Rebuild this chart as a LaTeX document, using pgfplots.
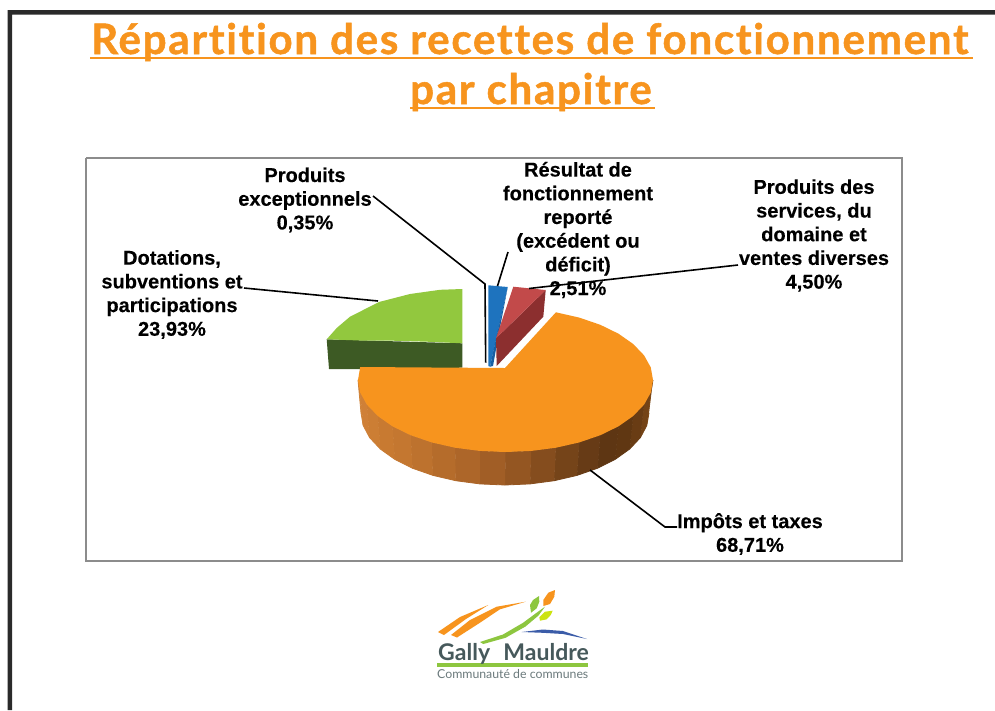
\documentclass[border=0pt]{standalone}
\usepackage{pgfplots}
\pgfplotsset{compat=1.18}
\usepackage{fontspec}
\setmainfont[BoldFeatures={FakeBold=0.25}]{Liberation Sans}
\newfontfamily\titlefont[LetterSpace=4.2,Ligatures=NoCommon,UprightFont=* Bold,FakeBold=1.2]{Lato}
\newfontfamily\logofont[Ligatures=NoCommon]{Lato}
\definecolor{orangeT}{HTML}{F7941E}
\definecolor{greenT}{HTML}{92C83E}
\definecolor{greenS}{HTML}{3D5A24}
\definecolor{blueT}{HTML}{1E73BE}
\definecolor{blueS}{HTML}{165FA3}
\definecolor{redT}{HTML}{C24A4A}
\definecolor{redS}{HTML}{8C2F2F}
\definecolor{frameC}{HTML}{2A2A2A}
\definecolor{boxC}{HTML}{8C8C8C}
\definecolor{logoG}{HTML}{8DC63F}
\definecolor{logoT}{HTML}{46595B}
\definecolor{logoB}{HTML}{3B5CA8}
\definecolor{sa}{HTML}{7F4A18}
\definecolor{sb}{HTML}{744316}
\definecolor{sc}{HTML}{693C14}
\definecolor{sd}{HTML}{603712}
\definecolor{se}{HTML}{5E3613}
\definecolor{sf}{HTML}{673B16}
\definecolor{sg}{HTML}{754419}
\definecolor{sh}{HTML}{854D1E}
\definecolor{si}{HTML}{945622}
\definecolor{sj}{HTML}{A15E26}
\definecolor{sk}{HTML}{AD6629}
\definecolor{sl}{HTML}{B56C2B}
\definecolor{sm}{HTML}{BD722E}
\definecolor{sn}{HTML}{C47730}
\definecolor{so}{HTML}{C87A31}
\definecolor{sp}{HTML}{CC7E34}
\definecolor{sq}{HTML}{CF8037}
\definecolor{sr}{HTML}{D08338}
\newcommand\strip[2]{\addplot[fill=#1,draw=#1,line width=0.8pt,line join=round] coordinates {#2};}
\newcommand\shape[2]{\addplot[fill=#1,draw=none] coordinates {#2};}
\newcommand\leader[1]{\addplot[black,line width=1.6pt] coordinates {#1};}
\newcommand\lbl[2]{\node[font=\bfseries\fontsize{20}{23.7}\selectfont,align=center,text=black,inner sep=0pt] at (axis cs:#1) {#2};}
\begin{document}
\begin{tikzpicture}
\begin{axis}[hide axis,scale only axis,width=995pt,height=710pt,xmin=0,xmax=995,ymin=0,ymax=710,y dir=reverse,clip=true]
\addplot[draw=none,fill=white] coordinates {(0,0)(995,0)(995,710)(0,710)};
% frame
\shape{frameC}{(7.5,10)(995,10)(995,14.5)(12,14.5)(12,710)(7.5,710)}
% chart box
\addplot[boxC,line width=2pt] coordinates {(86,157.5)(902,157.5)(902,560.5)(86,560.5)(86,157.5)};
% green slice
\shape{greenS}{(326.7,339.3)(329,369)(360,369)(462.3,367.7)(462.3,343.3)}
\shape{greenT}{(462.3,289)(440,289.8)(410,294)(379,302)(350,316.7)(336.7,328)(326.7,339.3)(360,340.5)(393,340.7)(427,341.7)(462.3,343.3)}
% blue slice
\shape{blueT}{(488.3,285.3)(507.7,287)(490,366.7)(488.3,366)}
\shape{blueS}{(507.7,287.3)(496,338.5)(490,366.7)(493,366)(498,338)}
% red slice
\shape{redS}{(545.7,290)(543.3,316.7)(496.7,366)(496,338.3)}
\shape{redT}{(513.3,286.7)(545.7,290)(496,338.3)}
% orange side, strip by strip
\strip{sa}{(653,380)(650.8,392.5)(646.8,425.5)(649,413)}
\strip{sb}{(650.8,392.5)(644.1,404.6)(640.4,437.6)(646.8,425.5)}
\strip{sc}{(644.1,404.6)(633.2,416)(629.7,449)(640.4,437.6)}
\strip{sd}{(633.2,416)(618.5,426.3)(615.3,459.3)(629.7,449)}
\strip{se}{(618.5,426.3)(600.3,435.2)(597.6,468.2)(615.3,459.3)}
\strip{sf}{(600.3,435.2)(579.3,442.4)(577,475.4)(597.6,468.2)}
\strip{sg}{(579.3,442.4)(555.9,447.7)(554.2,480.7)(577,475.4)}
\strip{sh}{(555.9,447.7)(531.2,450.9)(530.1,483.9)(554.2,480.7)}
\strip{si}{(531.2,450.9)(505.5,452)(505,485)(530.1,483.9)}
\strip{sj}{(505.5,452)(479.8,450.9)(479.9,483.9)(505,485)}
\strip{sk}{(479.8,450.9)(455.1,447.7)(455.8,480.7)(479.9,483.9)}
\strip{sl}{(455.1,447.7)(431.7,442.4)(433,475.4)(455.8,480.7)}
\strip{sm}{(431.7,442.4)(410.7,435.2)(412.4,468.2)(433,475.4)}
\strip{sn}{(410.7,435.2)(392.5,426.3)(394.7,459.3)(412.4,468.2)}
\strip{so}{(392.5,426.3)(377.8,416)(380.3,449)(394.7,459.3)}
\strip{sp}{(377.8,416)(366.9,404.6)(369.6,437.6)(380.3,449)}
\strip{sq}{(366.9,404.6)(360.2,392.5)(363.2,425.5)(369.6,437.6)}
\strip{sr}{(360.2,392.5)(358,380)(361,413)(363.2,425.5)}
% orange top
\shape{orangeT}{(505,368)(360.2,367)(358,380)(360.2,392.5)(366.9,404.6)(377.8,416)(392.5,426.3)(410.7,435.2)(431.7,442.4)(455.1,447.7)(479.8,450.9)(505.5,452)(531.2,450.9)(555.9,447.7)(579.3,442.4)(600.3,435.2)(618.5,426.3)(633.2,416)(644.1,404.6)(650.8,392.5)(653,380)(650.8,367.5)(644.1,355.4)(633.2,344)(618.5,333.7)(600.3,324.8)(579.3,317.6)(555.9,312.3)}
% leaders
\leader{(373,196)(485,284)(485.7,362.7)}
\leader{(508,252)(497.5,286)}
\leader{(738,265)(529,288.5)}
\leader{(244,288)(378,301)}
\leader{(590,470)(665,527)(677,527)}
% labels
\lbl{305,200}{Produits\\exceptionnels\\0,35\%}
\lbl{578,230}{Résultat de\\fonctionnement\\reporté\\(excédent ou\\déficit)\\2,51\%}
\lbl{814,235.5}{Produits des\\services, du\\domaine et\\ventes diverses\\4,50\%}
\lbl{172,294.5}{Dotations,\\subventions et\\participations\\23,93\%}
\lbl{750,534}{Impôts et taxes\\68,71\%}
% title
\node[anchor=base west,inner sep=0pt,text=orangeT,font=\titlefont\fontsize{42}{48}\selectfont] at (axis cs:91,54) {Répartition des recettes de fonctionnement};
\node[anchor=base west,inner sep=0pt,text=orangeT,font=\titlefont\fontsize{42}{48}\selectfont] at (axis cs:410,104) {par chapitre};
\addplot[orangeT,line width=2.5pt] coordinates {(90,58)(973,58)};
\addplot[orangeT,line width=2.5pt] coordinates {(410,108)(655,108)};
% logo
\shape{orangeT}{(438,632)(460,617)(488.3,605)(466,619)(444,635)}
\shape{orangeT}{(451,635)(470,620)(496.7,606.7)(525.7,601.7)(500,609.3)(478,624)(457,637.5)}
\shape{logoG}{(480,642)(503,634.5)(523,622.8)(536.5,612.8)(545,606.7)(538.5,615.5)(525.5,626.5)(505.5,637.8)(483.3,644)}
\shape{logoG}{(539,596)(533,600)(530,605)(531,612.7)(536.7,608.3)(539.3,601.7)}
\shape{orangeT}{(555,590)(548.3,592.7)(543.3,600)(543.3,606)(550,604)(554.3,596.7)}
\shape{yellow!80!green}{(552.7,610.7)(545,611.7)(539.3,617.3)(540,620.7)(546.7,619.3)(550.7,615)}
\shape{logoB}{(521.7,632)(543,629.5)(563,631)(587,639)(563,634)(543,632.8)}
\shape{logoG}{(436.7,663.3)(587.7,663.3)(587.7,667)(436.7,667)}
\node[anchor=base west,inner sep=0pt,text=logoT,font=\logofont\bfseries\fontsize{23}{28}\selectfont] at (axis cs:438,660) {Gally};
\node[anchor=base east,inner sep=0pt,text=logoT,font=\logofont\bfseries\fontsize{23}{28}\selectfont] at (axis cs:589,660) {Mauldre};
\node[anchor=base west,inner sep=0pt,text=logoT!80!white,font=\logofont\fontsize{12.3}{14}\selectfont] at (axis cs:437,678) {Communauté de communes};
\end{axis}
\end{tikzpicture}
\end{document}
